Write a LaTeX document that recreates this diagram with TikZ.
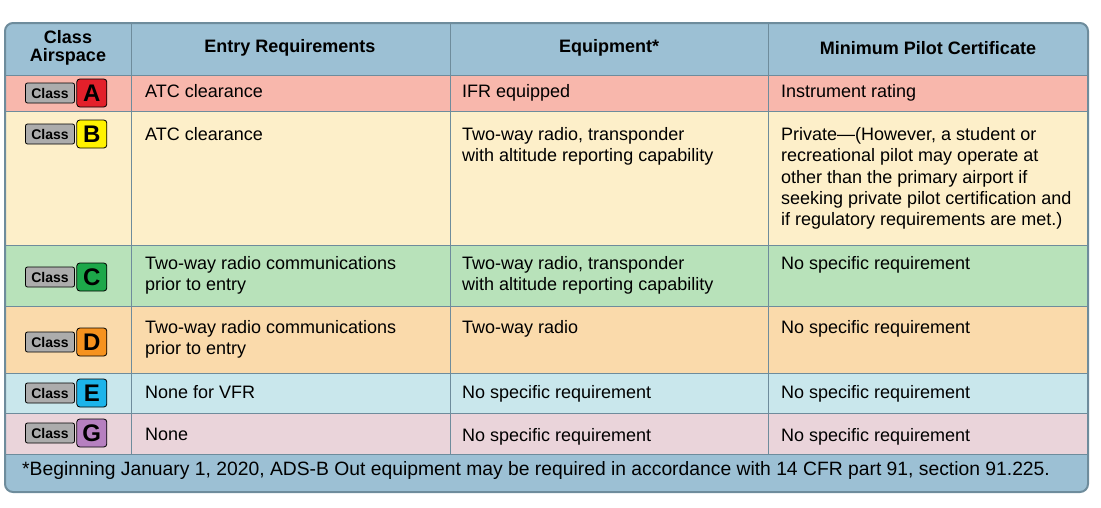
\documentclass[tikz,border=0pt]{standalone}
\usepackage{fontspec}
\setmainfont{Liberation Sans}
\usetikzlibrary{positioning}
\definecolor{hdr}{HTML}{9CC0D4}
\definecolor{rowA}{HTML}{F8B7AC}
\definecolor{rowB}{HTML}{FDEFC9}
\definecolor{rowC}{HTML}{B8E2BA}
\definecolor{rowD}{HTML}{FADAAB}
\definecolor{rowE}{HTML}{C9E7EC}
\definecolor{rowG}{HTML}{EAD4DA}
\definecolor{edge}{HTML}{6E8C9C}
\definecolor{letA}{HTML}{E3202A}
\definecolor{letB}{HTML}{FFF200}
\definecolor{letC}{HTML}{1DA84A}
\definecolor{letD}{HTML}{F6921E}
\definecolor{letE}{HTML}{1CB4EA}
\definecolor{letG}{HTML}{B680C0}
\newcommand{\classbadge}[3]{% y, letter, colour
  \node[tag] (cl#2) at (50,#1) {Class};
  \node[letter, fill=#3, right=1.5 of cl#2] (lt#2) {#2};
}
\begin{document}
\begin{tikzpicture}[x=1pt,y=-1pt]
    \tikzset{cell/.style = {anchor=north west, inner sep=0, align=left, font=\fontsize{18}{21.4}\selectfont}}
    \tikzset{head/.style = {inner sep=0, align=center, font=\bfseries\fontsize{18}{18}\selectfont}}
    \tikzset{tag/.style = {draw=black, line width=0.8, rounded corners=2, fill=gray!65, minimum width=49, minimum height=20, inner sep=0, font=\bfseries\fontsize{14}{14}\selectfont}}
    \tikzset{letter/.style = {draw=black, line width=0.8, rounded corners=3, minimum width=30, minimum height=28, inner sep=0, font=\bfseries\fontsize{24}{24}\selectfont}}
    \useasboundingbox (0,0) rectangle (1101,507);

    % rows
    \begin{scope}
    \clip[rounded corners=8] (5,23) rectangle (1088,492);
    \fill[hdr] (5,23) rectangle (1088,75);
    \fill[rowA] (5,75) rectangle (1088,111);
    \fill[rowB] (5,111) rectangle (1088,245);
    \fill[rowC] (5,245) rectangle (1088,306);
    \fill[rowD] (5,306) rectangle (1088,373);
    \fill[rowE] (5,373) rectangle (1088,413);
    \fill[rowG] (5,413) rectangle (1088,454);
    \fill[hdr] (5,454) rectangle (1088,492);
    \end{scope}

    % grid
    \foreach \y in {75,111,245,306,373,413,454}
        \draw[edge, line width=1] (5,\y) -- (1088,\y);
    \foreach \x in {131,450,768}
        \draw[edge, line width=1] (\x,23) -- (\x,454);
    \draw[edge, line width=2, rounded corners=8] (5,23) rectangle (1088,492);

    % header
    \node[head] (h1) at (68,48) {Class\\Airspace};
    \node[head] (h2) at (290,48) {Entry Requirements};
    \node[head] (h3) at (609,48) {Equipment*};
    \node[head] (h4) at (928,48) {Minimum Pilot Certificate};

    % badges
    \classbadge{93}{A}{letA}
    \classbadge{134}{B}{letB}
    \classbadge{277}{C}{letC}
    \classbadge{342}{D}{letD}
    \classbadge{393}{E}{letE}
    \classbadge{433}{G}{letG}

    % row A
    \node[cell] (a1) at (145,84) {ATC clearance};
    \node[cell] (a2) at (462,84) {IFR equipped};
    \node[cell] (a3) at (781,84) {Instrument rating};
    % row B
    \node[cell] (b1) at (145,127) {ATC clearance};
    \node[cell] (b2) at (462,127) {Two-way radio, transponder\\with altitude reporting capability};
    \node[cell] (b3) at (781,127) {Private---(However, a student or\\recreational pilot may operate at\\other than the primary airport if\\seeking private pilot certification and\\if regulatory requirements are met.)};
    % row C
    \node[cell] (c1) at (145,256) {Two-way radio communications\\prior to entry};
    \node[cell] (c2) at (462,256) {Two-way radio, transponder\\with altitude reporting capability};
    \node[cell] (c3) at (781,256) {No specific requirement};
    % row D
    \node[cell] (d1) at (145,320) {Two-way radio communications\\prior to entry};
    \node[cell] (d2) at (462,320) {Two-way radio};
    \node[cell] (d3) at (781,320) {No specific requirement};
    % row E
    \node[cell] (e1) at (145,385) {None for VFR};
    \node[cell] (e2) at (462,385) {No specific requirement};
    \node[cell] (e3) at (781,385) {No specific requirement};
    % row G
    \node[cell] (g1) at (145,428) {None};
    \node[cell] (g2) at (462,428) {No specific requirement};
    \node[cell] (g3) at (781,428) {No specific requirement};

    % footnote
    \node[cell, font=\fontsize{19.3}{20}\selectfont] (fn) at (22,461) {*Beginning January 1, 2020, ADS-B Out equipment may be required in accordance with 14 CFR part 91, section 91.225.};
\end{tikzpicture}
\end{document}
